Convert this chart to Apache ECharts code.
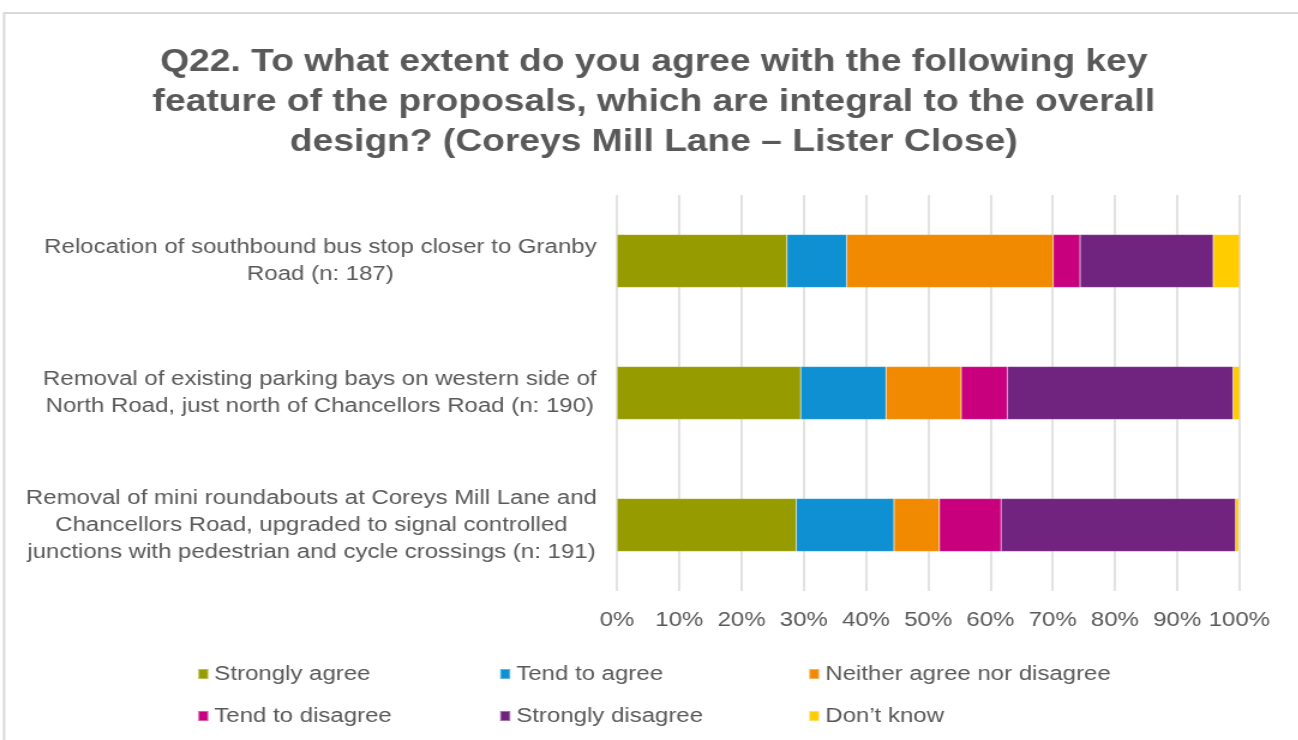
<!DOCTYPE html>
<html>
<head>
<meta charset="utf-8">
<script src="https://cdn.jsdelivr.net/npm/echarts@6/dist/echarts.min.js"></script>
<style>
  html, body { margin: 0; padding: 0; background: #fff; overflow: hidden; }
  /* the chart is laid out on a narrower canvas and widened to the page,
     which gives the broad lettering of the original export */
  #chart { width: 1081.67px; height: 740px; transform: scaleX(1.2); transform-origin: 0 0; }
</style>
</head>
<body>
<div id="chart"></div>
<script>
// Survey statements (top to bottom) and response shares in percent
const statements = [
  ['Relocation of southbound bus stop closer to Granby', 'Road (n: 187)'],
  ['Removal of existing parking bays on western side of', 'North Road, just north of Chancellors Road (n: 190)'],
  ['Removal of mini roundabouts at Coreys Mill Lane and', 'Chancellors Road, upgraded to signal controlled', 'junctions with pedestrian and cycle crossings (n: 191)']
];
const responseNames = ['Strongly agree', 'Tend to agree', 'Neither agree nor disagree', 'Tend to disagree', 'Strongly disagree', 'Don\u2019t know'];
const stronglyAgree    = [27.3, 29.5, 28.8];
const tendToAgree      = [9.6, 13.7, 15.7];
const neither          = [33.2, 12.1, 7.3];
const tendToDisagree   = [4.3, 7.4, 9.9];
const stronglyDisagree = [21.4, 36.3, 37.7];
const dontKnow         = [4.3, 1.1, 0.5];
const percentTicks = [0, 10, 20, 30, 40, 50, 60, 70, 80, 90, 100];

const seriesValues = [stronglyAgree, tendToAgree, neither, tendToDisagree, stronglyDisagree, dontKnow];
const colors = ['#969B00', '#0E90D2', '#F18A00', '#C8007D', '#70237F', '#FFCC00'];

const FONT = 'Liberation Sans, Arial, sans-serif';
const labelSize = 20;
const textColor = '#595959';

// measure each statement so its wrapped lines are centred within their block
const ctx = document.createElement('canvas').getContext('2d');
ctx.font = labelSize + 'px ' + FONT;
const rich = {};
statements.forEach((lines, i) => {
  const w = Math.max(...lines.map(l => ctx.measureText(l).width));
  rich['s' + i] = { width: Math.ceil(w), align: 'center', fontSize: labelSize, lineHeight: 27, color: textColor, fontFamily: FONT };
});
const categories = statements.map((lines, i) => lines.map(l => '{s' + i + '|' + l + '}').join('\n'));

const chart = echarts.init(document.getElementById('chart'), null, { renderer: 'canvas' });

// legend: two rows of three entries
const legendCols = [164.2, 415.8, 673.3];
const legendRows = [664, 706];

chart.setOption({
  animation: false,
  backgroundColor: '#fff',
  textStyle: { fontFamily: FONT },
  graphic: [
    {
      type: 'polyline',
      shape: { points: [[3.4, 740], [3.4, 13], [1090, 13]] },
      style: { stroke: '#d9d9d9', lineWidth: 2, fill: null }
    }
  ],
  title: {
    text: 'Q22. To what extent do you agree with the following key\nfeature of the proposals, which are integral to the overall\ndesign? (Coreys Mill Lane \u2013 Lister Close)',
    left: 539.8,
    textAlign: 'center',
    top: 37,
    textStyle: { fontSize: 31, fontWeight: 'bold', color: textColor, lineHeight: 40, fontFamily: FONT }
  },
  legend: responseNames.map((name, i) => ({
    data: [name],
    left: legendCols[i % 3],
    top: legendRows[Math.floor(i / 3)],
    padding: 0,
    itemWidth: 8.4,
    itemHeight: 10,
    itemGap: 0,
    icon: 'rect',
    textStyle: { fontSize: 20, color: textColor, fontFamily: FONT },
    selectedMode: false
  })),
  grid: { left: 514.2, right: 49.2, top: 195, bottom: 149, containLabel: false },
  xAxis: {
    type: 'value',
    min: 0,
    max: 100,
    interval: 10,
    axisLine: { show: false },
    axisTick: { show: false },
    splitLine: { show: true, lineStyle: { color: '#d9d9d9', width: 1.5 } },
    axisLabel: {
      formatter: v => percentTicks.includes(v) ? v + '%' : '',
      fontSize: 20,
      color: textColor,
      margin: 19,
      fontFamily: FONT
    }
  },
  yAxis: {
    type: 'category',
    inverse: true,
    data: categories,
    axisLine: { show: false },
    axisTick: { show: false },
    axisLabel: { margin: 16.7, align: 'right', rich: rich }
  },
  series: responseNames.map((name, i) => ({
    name: name,
    type: 'bar',
    stack: 'total',
    data: seriesValues[i],
    barWidth: 53,
    itemStyle: { color: colors[i], borderColor: 'rgba(255,255,255,0.35)', borderWidth: 0.5 },
    emphasis: { disabled: true }
  }))
});
</script>
</body>
</html>
